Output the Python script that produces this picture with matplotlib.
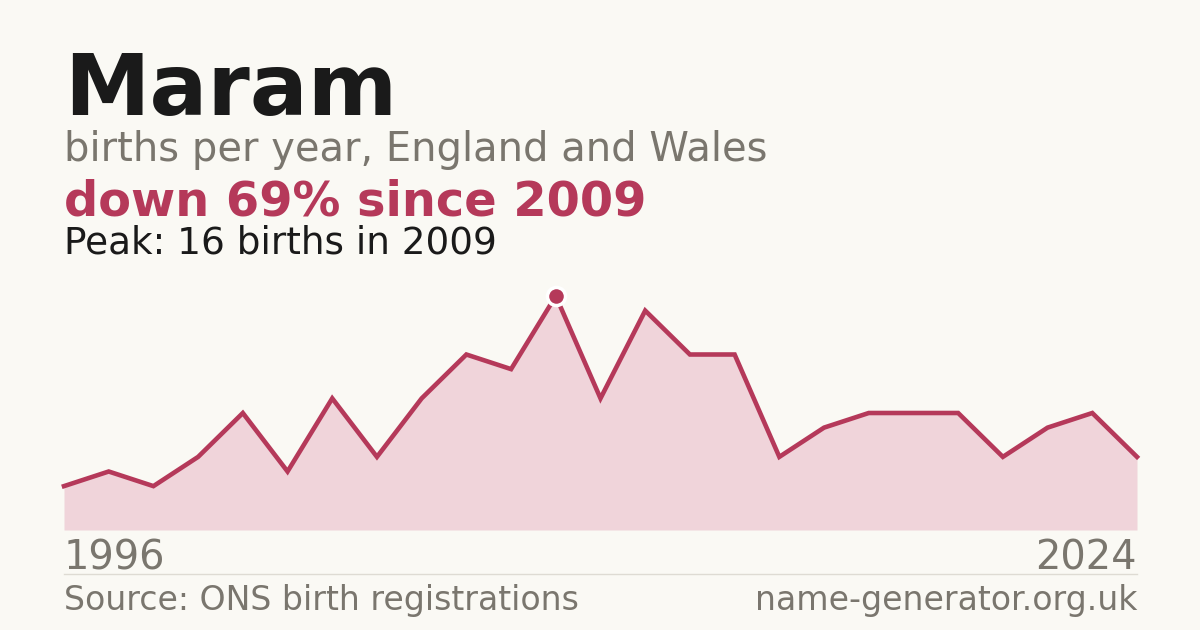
import numpy as np
import matplotlib
matplotlib.use("Agg")
import matplotlib.pyplot as plt

# births per year (years with too few births are not shown)
births = [3, 4, 3, 5, 8, 4, 9, 5, 9, 12, 11, 16, 9, 15, 12, 12, 5, 7, 8, 8, 8, 5, 7, 8, 5]
first_year = "1996"
last_year = "2024"
peak_value = 16
peak_year = "2009"

W, H = 1200, 630
BG = "#faf9f4"
RED = "#b5395a"
FILL = "#f0d4da"
GREY = "#7a766e"
DARK = "#1a1a1a"

fig = plt.figure(figsize=(W / 100, H / 100), dpi=100, facecolor=BG)

def fy(py):
    # pixel row from top -> figure fraction
    return 1 - py / H

# chart area
left, right = 64, 1137
base, top = 530, 296
ax = fig.add_axes([left / W, fy(base), (right - left) / W, (base - top) / H])
ax.set_facecolor("none")
x = np.arange(len(births))
ax.fill_between(x, births, 0, color=FILL, lw=0)
ax.plot(x, births, color=RED, lw=3.3, solid_joinstyle="miter", clip_on=False)
ipk = int(np.argmax(births))
ax.plot(ipk, births[ipk], "o", ms=13, color=RED, mec="white", mew=2.5, clip_on=False, zorder=5)
ax.set_xlim(0, len(births) - 1)
ax.set_ylim(0, peak_value)
ax.axis("off")

# texts
fig.text(left / W, fy(115), "Maram", fontsize=61.8, fontweight="bold", color=DARK, va="baseline")
fig.text(left / W, fy(161), "births per year, England and Wales", fontsize=28.8, color=GREY, va="baseline")
fig.text(left / W, fy(215), "down 69% since " + peak_year, fontsize=34.5, fontweight="bold", color=RED, va="baseline")
fig.text(left / W, fy(254), "Peak: %d births in %s" % (peak_value, peak_year), fontsize=26.9, color=DARK, va="baseline")

fig.text(left / W, fy(570), first_year, fontsize=28.7, color=GREY, va="baseline")
fig.text(right / W, fy(570), last_year, fontsize=28.7, color=GREY, va="baseline", ha="right")

fig.add_artist(plt.Line2D([left / W, right / W], [fy(574), fy(574)], color="#dedbd3", lw=1))

fig.text(left / W, fy(610), "Source: ONS birth registrations", fontsize=23.9, color=GREY, va="baseline")
fig.text(right / W, fy(610), "name-generator.org.uk", fontsize=23.9, color=GREY, va="baseline", ha="right")

fig.savefig("out.png", dpi=100, facecolor=BG)
